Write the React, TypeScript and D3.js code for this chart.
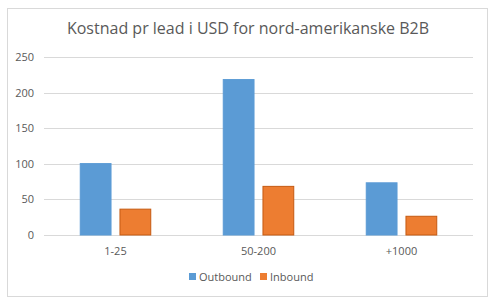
import React, { useRef, useEffect } from "react";
import * as d3 from "d3";

const categories = ["1-25", "50-200", "+1000"];
const seriesNames = ["Outbound", "Inbound"];
const outbound = [101, 219, 74];
const inbound = [37, 69, 27];
const yTicks = [0, 50, 100, 150, 200, 250];
const title = "Kostnad pr lead i USD for nord-amerikanske B2B";

const colors = ["#5B9BD5", "#ED7D31"];
const strokes = ["#5B9BD5", "#C55A11"];
const font = "Open Sans, Noto Sans, sans-serif";

const App: React.FC = () => {
  const svgRef = useRef<SVGSVGElement | null>(null);

  useEffect(() => {
    const svg = d3.select(svgRef.current);
    svg.selectAll("*").remove();

    const W = 495;
    const H = 305;
    const plot = { left: 44, right: 473, top: 57, bottom: 235 };

    // chart frame
    svg
      .append("rect")
      .attr("x", 7.5)
      .attr("y", 8.5)
      .attr("width", 480)
      .attr("height", 288)
      .attr("fill", "#fff")
      .attr("stroke", "#d9d9d9");

    svg
      .append("text")
      .attr("x", 248)
      .attr("y", 34)
      .attr("text-anchor", "middle")
      .attr("font-family", font)
      .attr("font-size", 16)
      .attr("fill", "#595959")
      .text(title);

    const y = d3.scaleLinear().domain([0, 250]).range([plot.bottom, plot.top]);
    const x0 = d3
      .scaleBand()
      .domain(categories)
      .range([plot.left, plot.right])
      .paddingInner(0.5)
      .paddingOuter(0.25);
    const x1 = d3
      .scaleBand()
      .domain(seriesNames)
      .range([0, x0.bandwidth()])
      .paddingInner(0.2);

    // gridlines
    svg
      .selectAll("line.grid")
      .data(yTicks)
      .enter()
      .append("line")
      .attr("class", "grid")
      .attr("x1", plot.left)
      .attr("x2", plot.right)
      .attr("y1", (d) => Math.round(y(d)) + 0.5)
      .attr("y2", (d) => Math.round(y(d)) + 0.5)
      .attr("stroke", "#d9d9d9");

    svg
      .selectAll("text.ytick")
      .data(yTicks)
      .enter()
      .append("text")
      .attr("class", "ytick")
      .attr("x", 34)
      .attr("y", (d) => y(d) + 4)
      .attr("text-anchor", "end")
      .attr("font-family", font)
      .attr("font-size", 11)
      .attr("fill", "#595959")
      .text((d) => d);

    const rows = categories.map((c, i) => ({ c, vals: [outbound[i], inbound[i]] }));

    const groups = svg
      .selectAll("g.cat")
      .data(rows)
      .enter()
      .append("g")
      .attr("class", "cat")
      .attr("transform", (d) => `translate(${x0(d.c)},0)`);

    groups
      .selectAll("rect")
      .data((d) => d.vals.map((v, j) => ({ v, j })))
      .enter()
      .append("rect")
      .attr("x", (d) => x1(seriesNames[d.j])! + 0.5)
      .attr("y", (d) => y(d.v) + 0.5)
      .attr("width", x1.bandwidth() - 1)
      .attr("height", (d) => y(0) - y(d.v) - 0.5)
      .attr("fill", (d) => colors[d.j])
      .attr("stroke", (d) => strokes[d.j])
      .attr("stroke-width", 1);

    svg
      .selectAll("text.xtick")
      .data(categories)
      .enter()
      .append("text")
      .attr("class", "xtick")
      .attr("x", (d) => x0(d)! + x0.bandwidth() / 2)
      .attr("y", 255)
      .attr("text-anchor", "middle")
      .attr("font-family", font)
      .attr("font-size", 11)
      .attr("fill", "#595959")
      .text((d) => d);

    // legend
    const legendX = [189, 260];
    const legend = svg
      .selectAll("g.legend")
      .data(seriesNames)
      .enter()
      .append("g")
      .attr("class", "legend")
      .attr("transform", (_, i) => `translate(${legendX[i]},273)`);
    legend
      .append("rect")
      .attr("width", 7)
      .attr("height", 7)
      .attr("fill", (_, i) => colors[i]);
    legend
      .append("text")
      .attr("x", 10)
      .attr("y", 7.5)
      .attr("font-family", font)
      .attr("font-size", 11)
      .attr("fill", "#595959")
      .text((d) => d);

    svg.attr("width", W).attr("height", H);
  }, []);

  return (
    <svg
      ref={svgRef}
      width={495}
      height={305}
      style={{ position: "absolute", left: 0, top: 0, background: "#fff" }}
    />
  );
};

export default App;
